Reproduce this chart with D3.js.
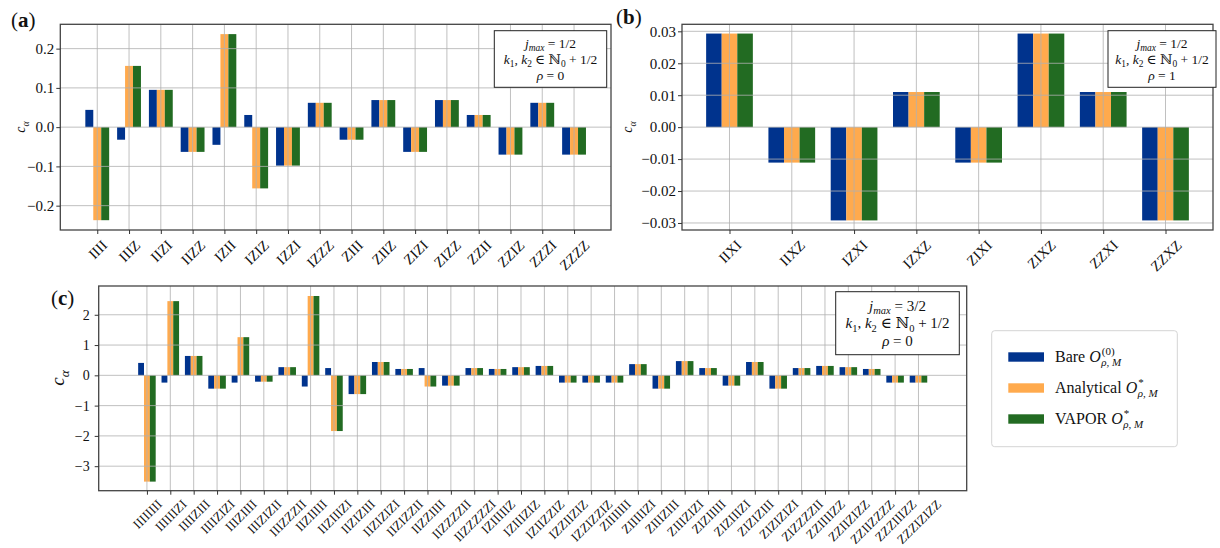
<!DOCTYPE html>
<html>
<head>
<meta charset="utf-8">
<script src="https://cdn.jsdelivr.net/npm/d3@7"></script>
<style>
  body { margin: 0; background: #fff; }
  text { font-family: "Liberation Serif", "DejaVu Serif", serif; fill: #111; }
</style>
</head>
<body>
<svg width="1220" height="548"></svg>
<script>
// ---- data ----
var labelsA = ['IIII','IIIZ','IIZI','IIZZ','IZII','IZIZ','IZZI','IZZZ',
               'ZIII','ZIIZ','ZIZI','ZIZZ','ZZII','ZZIZ','ZZZI','ZZZZ'];
var bareA       = [0.044,-0.032,0.095,-0.063,-0.045,0.031,-0.098,0.062,-0.032,0.069,-0.063,0.069,0.031,-0.070,0.062,-0.070];
var analyticalA = [-0.237,0.156,0.095,-0.063,0.237,-0.156,-0.098,0.062,-0.032,0.069,-0.063,0.069,0.031,-0.070,0.062,-0.070];
var vaporA      = [-0.237,0.156,0.095,-0.063,0.237,-0.156,-0.098,0.062,-0.032,0.069,-0.063,0.069,0.031,-0.070,0.062,-0.070];
var yTicksA = [-0.2,-0.1,0,0.1,0.2];

var labelsB = ['IIXI','IIXZ','IZXI','IZXZ','ZIXI','ZIXZ','ZZXI','ZZXZ'];
var bareB       = [0.0293,-0.0111,-0.0292,0.0110,-0.0111,0.0293,0.0110,-0.0292];
var analyticalB = [0.0293,-0.0111,-0.0292,0.0110,-0.0111,0.0293,0.0110,-0.0292];
var vaporB      = [0.0293,-0.0111,-0.0292,0.0110,-0.0111,0.0293,0.0110,-0.0292];
var yTicksB = [-0.03,-0.02,-0.01,0,0.01,0.02,0.03];

var labelsC = ['IIIIIIII','IIIIIIZI','IIIIZIII','IIIIZIZI','IIIZIIII','IIIZIZII','IIIZZZII','IIZIIIII',
               'IIZIIIZI','IIZIZIII','IIZIZIZI','IIZIZZII','IIZZIIII','IIZZZZII','IIZZZZZI','IZIIIIIZ',
               'IZIIIZIZ','IZIIZZIZ','IZZIIZIZ','IZZIZZIZ','ZIIIIIII','ZIIIIIZI','ZIIIZIII','ZIIIZIZI',
               'ZIZIIIII','ZIZIIIZI','ZIZIZIII','ZIZIZIZI','ZIZZZZII','ZZIIIIZZ','ZZIIZIZZ','ZZIIZZZZ',
               'ZZZIIIZZ','ZZZIZIZZ'];
var bareC       = [0.41,-0.24,0.64,-0.44,-0.24,-0.21,0.27,-0.37,0.24,-0.62,0.44,0.21,0.24,-0.34,0.24,0.21,
                   0.27,0.31,-0.24,-0.24,-0.24,0.37,-0.44,0.47,0.24,-0.34,0.44,-0.44,0.24,0.31,0.27,0.21,-0.24,-0.24];
var analyticalC = [-3.51,2.45,0.64,-0.44,1.26,-0.21,0.27,2.62,-1.84,-0.62,0.44,0.21,-0.37,-0.34,0.24,0.21,
                   0.27,0.31,-0.24,-0.24,-0.24,0.37,-0.44,0.47,0.24,-0.34,0.44,-0.44,0.24,0.31,0.27,0.21,-0.24,-0.24];
var vaporC      = [-3.51,2.45,0.64,-0.44,1.26,-0.21,0.27,2.62,-1.84,-0.62,0.44,0.21,-0.37,-0.34,0.24,0.21,
                   0.27,0.31,-0.24,-0.24,-0.24,0.37,-0.44,0.47,0.24,-0.34,0.44,-0.44,0.24,0.31,0.27,0.21,-0.24,-0.24];
var yTicksC = [-3,-2,-1,0,1,2];

var seriesColors = ['#00338d', '#ffaa4d', '#226b22'];
var seriesNames = ['Bare', 'Analytical', 'VAPOR'];

var svg = d3.select('svg');

// write a line of text made of parts: [string, style] with style n | i | b | sub | subi
function rich(sel, parts, size){
  var shift = 0;
  parts.forEach(function(p){
    var t = sel.append('tspan').text(p[0]);
    var style = p[1] || 'n';
    var want = (style == 'sub' || style == 'subi') ? size*0.25 : 0;
    if(want != shift){ t.attr('dy', want - shift); shift = want; }
    if(style == 'i' || style == 'subi') t.attr('font-style', 'italic');
    if(style == 'b') t.attr('font-weight', 'bold');
    if(style == 'sub' || style == 'subi') t.attr('font-size', size*0.7);
  });
}

function panel(p){
  var g = svg.append('g');
  var n = p.labels.length;
  var m = 0.05*(n - 1 + 0.75);
  var x = d3.scaleLinear().domain([-0.375 - m, n - 1 + 0.375 + m]).range([p.left, p.right]);
  var y = d3.scaleLinear().domain(p.yDomain).range([p.bottom, p.top]);
  var offsets = [-0.25, 0, 0.25];
  var bw = x(0.25) - x(0);

  p.series.forEach(function(vals, s){
    g.selectAll('rect.s' + s).data(vals).enter().append('rect')
      .attr('class', 's' + s)
      .attr('x', function(d, i){ return x(i + offsets[s] - 0.125); })
      .attr('width', bw)
      .attr('y', function(d){ return y(Math.max(0, d)); })
      .attr('height', function(d){ return Math.abs(y(d) - y(0)); })
      .attr('fill', seriesColors[s]);
  });

  // grid over the bars, like matplotlib's default
  g.selectAll('line.gx').data(d3.range(n)).enter().append('line')
    .attr('x1', function(i){ return x(i); }).attr('x2', function(i){ return x(i); })
    .attr('y1', p.top).attr('y2', p.bottom)
    .attr('stroke', '#b0b0b0').attr('stroke-opacity', 0.8).attr('stroke-width', 1);
  g.selectAll('line.gy').data(p.yTicks).enter().append('line')
    .attr('y1', function(d){ return y(d); }).attr('y2', function(d){ return y(d); })
    .attr('x1', p.left).attr('x2', p.right)
    .attr('stroke', '#b0b0b0').attr('stroke-opacity', 0.8).attr('stroke-width', 1);

  g.append('rect')
    .attr('x', p.left).attr('y', p.top)
    .attr('width', p.right - p.left).attr('height', p.bottom - p.top)
    .attr('fill', 'none').attr('stroke', '#444').attr('stroke-width', 1.3);

  var xa = g.append('g')
    .attr('transform', 'translate(0,' + p.bottom + ')')
    .call(d3.axisBottom(x).tickValues(d3.range(n))
      .tickFormat(function(i){ return p.labels[i]; })
      .tickSize(4));
  xa.select('.domain').remove();
  xa.selectAll('line').attr('stroke', '#333');
  xa.attr('font-family', null).attr('font-size', p.xFont);
  xa.selectAll('text')
    .attr('y', null).attr('dy', null)
    .attr('text-anchor', 'middle')
    .attr('dominant-baseline', 'central')
    .each(function(){
      var L = this.getComputedTextLength();
      var cy = p.xPad + (L + p.xFont*0.9)/(2*Math.SQRT2);
      d3.select(this).attr('transform', 'translate(0,' + cy + ') rotate(-45)');
    });

  var ya = g.append('g')
    .attr('transform', 'translate(' + p.left + ',0)')
    .call(d3.axisLeft(y).tickValues(p.yTicks).tickFormat(d3.format(p.yFormat))
      .tickSize(4).tickPadding(p.yPad));
  ya.select('.domain').remove();
  ya.selectAll('line').attr('stroke', '#333');
  ya.attr('font-family', null).attr('font-size', p.yFont);

  // y label c_alpha
  var yl = g.append('text')
    .attr('transform', 'translate(' + p.ylabX + ',' + p.ylabY + ') rotate(-90)')
    .attr('text-anchor', 'middle')
    .attr('font-size', p.ylabSize);
  rich(yl, [['c', 'i'], ['α', 'subi']], p.ylabSize);

  // panel letter
  var pl = g.append('text')
    .attr('x', p.letterX).attr('y', p.letterY)
    .attr('font-size', 21);
  rich(pl, [['('], [p.letter, 'b'], [')']], 21);

  // info box
  var b = p.box;
  g.append('rect')
    .attr('x', b.x).attr('y', b.y).attr('width', b.w).attr('height', b.h)
    .attr('fill', '#fff').attr('stroke', '#222').attr('stroke-width', 1);
  var lines = [
    [['j', 'i'], ['max', 'subi'], [' = ' + b.jmax]],
    [['k', 'i'], ['1', 'sub'], [', '], ['k', 'i'], ['2', 'sub'], [' ∈ ℕ'], ['0', 'sub'], [' + 1/2']],
    [['ρ', 'i'], [' = ' + b.rho]]
  ];
  lines.forEach(function(parts, k){
    var t = g.append('text')
      .attr('x', b.x + b.w/2).attr('y', b.y + b.base + k*b.step)
      .attr('text-anchor', 'middle')
      .attr('font-size', b.size);
    rich(t, parts, b.size);
  });
}

panel({
  labels: labelsA, series: [bareA, analyticalA, vaporA],
  left: 60.3, right: 611, top: 24.3, bottom: 230,
  yDomain: [-0.262, 0.262], yTicks: yTicksA, yFormat: '.1f',
  xFont: 14.5, xPad: 8, yFont: 15, yPad: 2,
  ylabX: 25, ylabY: 127, ylabSize: 14,
  letter: 'a', letterX: 11, letterY: 27,
  box: {x: 494.3, y: 30.7, w: 112.4, h: 56.6, jmax: '1/2', rho: '0', size: 13.5, base: 17, step: 16}
});

panel({
  labels: labelsB, series: [bareB, analyticalB, vaporB],
  left: 682, right: 1213, top: 24.3, bottom: 230,
  yDomain: [-0.0322, 0.0322], yTicks: yTicksB, yFormat: '.2f',
  xFont: 14.5, xPad: 8, yFont: 15, yPad: 2,
  ylabX: 632, ylabY: 127, ylabSize: 14,
  letter: 'b', letterX: 616, letterY: 24,
  box: {x: 1108, y: 30.7, w: 108, h: 56.6, jmax: '1/2', rho: '1', size: 13.5, base: 17, step: 16}
});

panel({
  labels: labelsC, series: [bareC, analyticalC, vaporC],
  left: 98.7, right: 966.7, top: 286, bottom: 490.7,
  yDomain: [-3.81, 2.95], yTicks: yTicksC, yFormat: 'd',
  xFont: 13, xPad: 7, yFont: 14, yPad: 5,
  ylabX: 64, ylabY: 378, ylabSize: 19,
  letter: 'c', letterX: 51, letterY: 305,
  box: {x: 835.7, y: 291.7, w: 123.6, h: 63, jmax: '3/2', rho: '0', size: 15, base: 19, step: 17.5}
});

// legend
var lg = svg.append('g');
lg.append('rect')
  .attr('x', 991.7).attr('y', 330.7).attr('width', 185.6).attr('height', 116).attr('rx', 3)
  .attr('fill', '#fff').attr('stroke', '#d4d4d4').attr('stroke-width', 1);
var legendSup = ['(0)', '*', '*'];
seriesNames.forEach(function(name, i){
  var yb = 361.7 + i*31;
  lg.append('rect')
    .attr('x', 1008.3).attr('y', yb - 9.4).attr('width', 35.7).attr('height', 9.4)
    .attr('fill', seriesColors[i]);
  var t = lg.append('text').attr('x', 1055).attr('y', yb).attr('font-size', 16);
  t.append('tspan').text(name + ' ');
  t.append('tspan').attr('font-style', 'italic').text('O');
  var w = t.node().getComputedTextLength();
  lg.append('text').attr('x', 1055 + w + 1).attr('y', yb - 7).attr('font-size', 11)
    .text(legendSup[i]);
  lg.append('text').attr('x', 1055 + w + 0.5).attr('y', yb + 4).attr('font-size', 11)
    .attr('font-style', 'italic').text('ρ, M');
});
</script>
</body>
</html>
